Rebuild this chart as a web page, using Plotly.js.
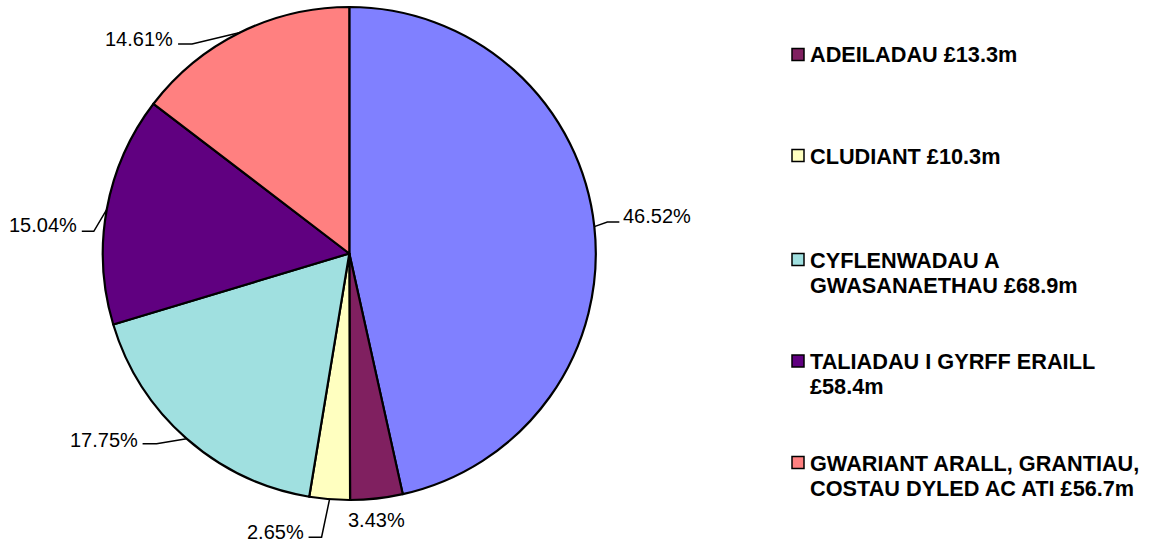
<!DOCTYPE html>
<html>
<head>
<meta charset="utf-8">
<script src="https://cdn.plot.ly/plotly-3.0.1.min.js"></script>
<style>
  html, body { margin: 0; padding: 0; background: #fff; }
  #chart { width: 1149px; height: 544px; }
</style>
</head>
<body>
<div id="chart"></div>
<script>
// ---- data ----
var categories = [
  "CYFLOGEION",
  "ADEILADAU £13.3m",
  "CLUDIANT £10.3m",
  "CYFLENWADAU A<br>GWASANAETHAU £68.9m",
  "TALIADAU I GYRFF ERAILL<br>£58.4m",
  "GWARIANT ARALL, GRANTIAU,<br>COSTAU DYLED AC ATI £56.7m"
];
var percents = [46.52, 3.43, 2.65, 17.75, 15.04, 14.61];
var inLegend = [false, true, true, true, true, true];

// ---- styles / layout ----
var colors = ["#8080FF", "#802060", "#FFFFC0", "#A0E0E0", "#600080", "#FF8080"];
var W = 1149, H = 544;
var CX = 349.3, CY = 253.5, R = 246.5;
// leader line config per slice: elbow offset from slice edge (px), horizontal tail length (signed), text vertical offset
var leader = [
  {dx: 13, dy: -4.5, tail: 12, tdy: -6, gap: 3},
  {none: true, dy: 22},
  {dx: -8, dy: 38, tail: -13, tdy: -5, gap: 4},
  {dx: -30, dy: 5, tail: -14, tdy: -4, gap: 4},
  {dx: -13, dy: 22, tail: -12, tdy: -6.5, gap: 4},
  {dx: -48, dy: 11.5, tail: -14, tdy: -5, gap: 4}
];
var legendX = 792, legendTextX = 809, legendBox = 12;
var legendRowY = [54.5, 155.5, 259.5, 361, 462.5];
var legendLineH = 25;

function px(x) { return x / W; }
function py(y) { return 1 - y / H; }

var shapes = [], annotations = [];
var total = percents.reduce(function (a, b) { return a + b; }, 0);
var cum = 0;
percents.forEach(function (p, i) {
  var mid = (cum + p / 2) / total;
  cum += p;
  var th = 2 * Math.PI * mid;
  var ex = CX + R * Math.sin(th), ey = CY - R * Math.cos(th);
  var txt = p.toFixed(2) + "%";
  var L = leader[i];
  var font = {family: "Liberation Sans, Arial, sans-serif", size: 20, color: "#000"};
  if (L.none) {
    annotations.push({xref: "paper", yref: "paper", x: px(ex), y: py(ey + L.dy),
      text: txt, showarrow: false, xanchor: "center", yanchor: "middle", font: font});
    return;
  }
  var bx = ex + L.dx, by = ey + L.dy;
  var tx = bx + L.tail;
  shapes.push({type: "path", xref: "paper", yref: "paper",
    path: "M " + px(ex) + " " + py(ey) + " L " + px(bx) + " " + py(by) + " L " + px(tx) + " " + py(by),
    line: {color: "#000", width: 1.5}});
  var right = L.tail > 0;
  annotations.push({xref: "paper", yref: "paper",
    x: px(tx + (right ? L.gap : -L.gap)), y: py(by + L.tdy),
    text: txt, showarrow: false, xanchor: right ? "left" : "right", yanchor: "middle",
    font: font, borderpad: 0});
});

// manual legend
var row = 0;
categories.forEach(function (c, i) {
  if (!inLegend[i]) return;
  var yc = legendRowY[row++];
  shapes.push({type: "rect", xref: "paper", yref: "paper",
    x0: px(legendX), x1: px(legendX + legendBox), y0: py(yc - legendBox / 2), y1: py(yc + legendBox / 2),
    fillcolor: colors[i], line: {color: "#000", width: 1.5}});
  c.split("<br>").forEach(function (line, k) {
    annotations.push({xref: "paper", yref: "paper", x: px(legendTextX), y: py(yc + 0.5 + k * legendLineH),
      text: "<b>" + line + "</b>", showarrow: false, xanchor: "left", yanchor: "middle", borderpad: 0,
      font: {family: "Liberation Sans, Arial, sans-serif", size: 21.7, color: "#000"}});
  });
});

var trace = {
  type: "pie",
  labels: categories,
  values: percents,
  sort: false,
  direction: "clockwise",
  rotation: 0,
  textinfo: "none",
  textposition: "none",
  hoverinfo: "label+percent",
  marker: {colors: colors, line: {color: "#000", width: 2.2}},
  domain: {x: [px(CX - R), px(CX + R)], y: [py(CY + R), py(CY - R)]},
  showlegend: false
};

var layout = {
  width: W, height: H,
  margin: {l: 0, r: 0, t: 0, b: 0},
  paper_bgcolor: "#fff",
  showlegend: false,
  shapes: shapes,
  annotations: annotations
};

Plotly.newPlot("chart", [trace], layout, {displayModeBar: false, staticPlot: true});
</script>
</body>
</html>
